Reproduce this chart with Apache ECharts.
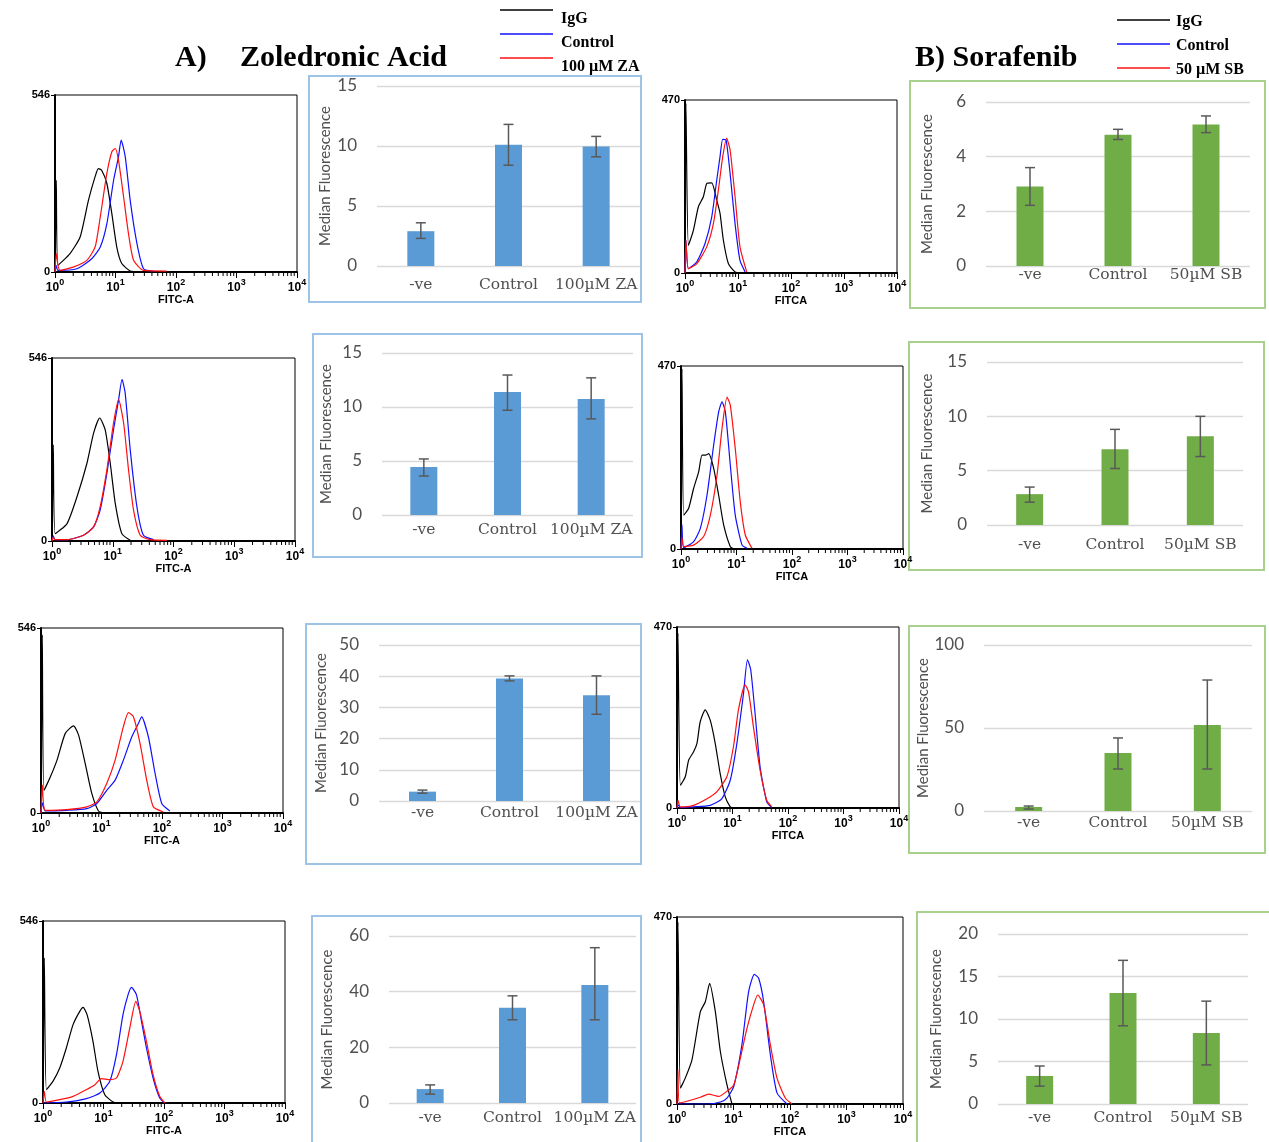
<!DOCTYPE html>
<html><head><meta charset="utf-8">
<script src="https://cdn.jsdelivr.net/npm/echarts@6/dist/echarts.min.js"></script>
<style>html,body{margin:0;padding:0;background:#fff}#c{width:1269px;height:1142px}</style>
</head><body><div id="c"></div>
<script>
// ---------- Bar chart data ----------
const catsZA = ['-ve', 'Control', '100µM ZA'];
const catsSB = ['-ve', 'Control', '50µM SB'];
const za1Mean = [2.9, 10.1, 9.95],  za1Lo = [2.3, 8.4, 9.1],   za1Hi = [3.6, 11.8, 10.8];
const za2Mean = [4.44, 11.4, 10.74], za2Lo = [3.61, 9.7, 8.9], za2Hi = [5.19, 12.96, 12.7];
const za3Mean = [3.0, 39.3, 33.9],  za3Lo = [2.5, 38.5, 27.8], za3Hi = [3.5, 40.1, 40.1];
const za4Mean = [5.0, 34.2, 42.4],  za4Lo = [3.2, 29.9, 29.9], za4Hi = [6.5, 38.5, 55.8];
const sb1Mean = [2.91, 4.8, 5.18],  sb1Lo = [2.22, 4.63, 4.88], sb1Hi = [3.6, 5.0, 5.49];
const sb2Mean = [2.84, 6.97, 8.17], sb2Lo = [2.1, 5.2, 6.3],   sb2Hi = [3.49, 8.8, 10.0];
const sb3Mean = [2.4, 34.9, 51.8],  sb3Lo = [1.2, 25.3, 25.3], sb3Hi = [3.0, 44, 78.9];
const sb4Mean = [3.3, 13.06, 8.35], sb4Lo = [2.1, 9.2, 4.6],   sb4Hi = [4.47, 16.9, 12.1];

// ---------- Histogram data: [FITC-A, count] ----------
const a1IgG  = [[1,0],[1.05,283],[1.12,21],[1.77,57],[2.6,108],[3.57,221],[4.6,294],[5.2,319],[5.9,314],[7.2,273],[8.7,180],[10.5,77],[12.7,26],[17.5,3],[25,0]];
const a1Ctrl = [[1,0],[1.05,20],[1.12,5],[2.3,10],[4.05,41],[5.6,77],[7.2,149],[9.3,283],[11.2,355],[12.4,407],[14.5,355],[17.5,221],[22.6,88],[29,10],[42,3]];
const a1Trt  = [[1,0],[1.05,57],[1.2,5],[2.0,15],[3.35,36],[4.6,77],[5.6,170],[7.2,304],[8.7,371],[9.9,381],[11.2,345],[13.6,232],[16.4,118],[19.9,36],[29,5],[70,3]];

const a2IgG  = [[1,0],[1.05,287],[1.13,22],[1.77,52],[2.58,132],[3.76,232],[4.84,322],[6.1,367],[7.5,332],[9.1,232],[11,112],[14.1,22],[19.4,2]];
const a2Ctrl = [[1,0],[1.05,15],[1.12,4],[1.77,4],[3.3,17],[4.84,42],[6.2,92],[8.0,202],[10.3,332],[12.5,422],[14.2,482],[16,442],[19.4,272],[25,102],[32,17],[47,4]];
const a2Trt  = [[1,0],[1.05,12],[1.12,4],[1.77,4],[3.3,17],[4.84,42],[6.2,102],[8.0,212],[10.3,352],[12.5,422],[15.1,352],[18.2,212],[22,92],[28.3,17],[41,4],[78,2]];

const a3IgG  = [[1,0],[1.05,526],[1.12,67],[1.43,107],[1.84,156],[2.52,235],[3.45,257],[4.18,230],[5.38,146],[6.93,57],[8.9,6],[11,0]];
const a3Ctrl = [[1,0],[1.05,30],[1.18,6],[2.68,8],[5.7,13],[8.4,28],[12.2,67],[16.8,97],[23,156],[31.7,225],[40.9,265],[46,284],[59.5,225],[77,116],[99,28],[135,6]];
const a3Trt  = [[1,0],[1.05,82],[1.18,8],[2.68,10],[5.7,18],[8.4,33],[12.2,87],[16.8,156],[23,255],[27.9,296],[33.7,284],[43.4,205],[55.9,97],[72,18],[105,3]];

const a4IgG  = [[1,0],[1.05,435],[1.14,40],[1.46,65],[1.89,105],[2.43,165],[3.14,235],[4.05,275],[4.6,287],[5.35,265],[6.7,185],[8.1,95],[10.5,25],[14.4,3],[18,0]];
const a4Ctrl = [[1,0],[2.43,3],[5.2,13],[8.7,30],[12.7,65],[16.4,145],[21,265],[25.5,325],[29,347],[35,325],[42.5,245],[51.3,165],[66,75],[85,15],[103,0]];
const a4Trt  = [[1,0],[1.05,35],[1.14,3],[1.89,10],[3.14,20],[5.2,40],[7.2,55],[9.2,73],[12.7,70],[16.4,75],[21,125],[27.2,225],[34.2,305],[39.8,275],[51.3,185],[66,85],[85,20],[103,0]];

const b1IgG  = [[1,0],[1.04,461],[1.16,75],[1.44,116],[1.79,180],[2.22,207],[2.57,243],[3.19,245],[3.97,198],[4.58,162],[5.3,89],[6.6,25],[8.8,3],[11,0]];
const b1Ctrl = [[1,0],[1.04,89],[1.16,12],[1.66,30],[2.39,80],[3.19,152],[3.97,252],[4.58,316],[5.15,363],[5.96,361],[7.1,270],[8.8,134],[10.9,34],[13.6,3]];
const b1Trt  = [[1,0],[1.04,89],[1.16,12],[1.66,25],[2.57,71],[3.43,134],[4.26,225],[5.15,316],[6.1,366],[7.1,334],[8.8,207],[10.9,71],[14.6,3]];

const b2IgG  = [[1,0],[1.04,463],[1.12,87],[1.37,104],[1.69,156],[2.08,198],[2.39,241],[2.75,241],[3.15,245],[3.88,207],[4.77,138],[5.87,62],[7.74,6],[9,0]];
const b2Ctrl = [[1,0],[1.04,62],[1.12,3],[1.69,19],[2.23,53],[2.94,138],[3.88,267],[4.77,352],[5.48,378],[6.3,352],[7.74,215],[9.5,87],[12.6,10],[15.5,2]];
const b2Trt  = [[1,0],[1.04,30],[1.12,6],[1.69,10],[2.56,32],[3.38,87],[4.46,190],[5.48,309],[6.75,390],[7.74,369],[9.5,258],[11.7,121],[14.4,36],[19,2]];

const b3IgG  = [[1,0],[1.04,454],[1.15,59],[1.41,81],[1.62,124],[1.99,146],[2.29,168],[2.62,224],[3.23,255],[3.97,228],[4.88,168],[6.0,89],[7.4,29],[9.1,3],[10,0]];
const b3Ctrl = [[1,0],[1.04,8],[1.15,1],[1.99,3],[3.97,7],[6.4,24],[9.1,72],[12,168],[15.8,298],[18.6,385],[21.3,359],[25.5,246],[31.4,107],[41.4,16],[50.9,1]];
const b3Trt  = [[1,0],[1.04,20],[1.15,3],[1.99,7],[3.46,24],[5.2,42],[7.9,81],[10.4,159],[12.8,255],[16.9,320],[19.4,302],[23.8,211],[31.4,98],[41.4,20],[50.9,3]];

const b4IgG  = [[1,0],[1.04,457],[1.15,40],[1.4,65],[1.84,111],[2.59,232],[3.17,257],[3.78,303],[4.77,232],[5.85,132],[7.67,48],[9.4,0]];
const b4Ctrl = [[1,0],[3.5,0],[5.85,5],[7.67,15],[10.1,44],[14.1,149],[18.5,282],[23.4,326],[27.9,316],[34.2,257],[44.9,124],[58.9,28],[88.5,0]];
const b4Trt  = [[1,0],[1.04,86],[1.1,3],[1.5,7],[2.59,17],[3.63,25],[5.46,19],[7.67,32],[10.1,48],[13.2,115],[17.3,190],[22.7,249],[26.8,274],[34.2,249],[44.9,149],[58.9,65],[82.6,15],[108,0]];

// ---------- Axis tick values ----------
const histYMaxZA = 546, histYMaxSB = 470;
const minorTickVals = [];
[1, 10, 100, 1000].forEach(d => { for (let k = 2; k <= 9; k++) minorTickVals.push(k * d); });

const legendZA = ['IgG', 'Control', '100 µM ZA'];
const legendSB = ['IgG', 'Control', '50 µM SB'];

// ---------- Build ----------
const grids = [], xAxes = [], yAxes = [], series = [], graphics = [];
const SANS = '"Liberation Sans", Arial, sans-serif';
const LATO = 'Lato, "Open Sans", sans-serif';
const SERIF = '"DejaVu Serif", serif';

function addHist(L, T, R, B, ymax, igg, ctrl, trt, xname) {
  const i = grids.length;
  grids.push({left: L, top: T, width: R - L, height: B - T, show: true, borderColor: '#000', borderWidth: 1, backgroundColor: 'transparent'});
  xAxes.push({
    gridIndex: i, type: 'log', logBase: 10, min: 1, max: 10000,
    axisLine: {show: true, onZero: false, lineStyle: {color: '#000', width: 2}},
    axisTick: {show: true, length: 6, lineStyle: {color: '#000', width: 1}},
    splitLine: {show: false},
    axisLabel: {
      margin: 6, showMinLabel: true, showMaxLabel: true,
      formatter: v => '{b|10}{s|' + Math.round(Math.log10(v)) + '}',
      rich: {
        b: {fontFamily: SANS, fontSize: 12, fontWeight: 'bold', color: '#000', verticalAlign: 'bottom'},
        s: {fontFamily: SANS, fontSize: 9, fontWeight: 'bold', color: '#000', verticalAlign: 'top', padding: [0, 0, 7, 0]}
      }
    },
    name: xname, nameLocation: 'middle', nameGap: 18,
    nameTextStyle: {fontFamily: SANS, fontSize: 11, fontWeight: 'bold', color: '#000'}
  });
  yAxes.push({
    gridIndex: i, type: 'value', min: 0, max: ymax, interval: ymax,
    axisLine: {show: true, lineStyle: {color: '#000', width: 2}},
    axisTick: {show: true, length: 4, lineStyle: {color: '#000'}},
    splitLine: {show: false},
    axisLabel: {fontFamily: SANS, fontSize: 11, fontWeight: 'bold', color: '#000', margin: 5}
  });
  [[igg, '#000000'], [ctrl, '#1010ff'], [trt, '#ff1010']].forEach(([d, c]) => {
    series.push({type: 'line', xAxisIndex: i, yAxisIndex: i, data: d, showSymbol: false, smooth: 0.2,
      lineStyle: {color: c, width: 1.2}, silent: true, animation: false});
  });
  series.push({
    type: 'custom', xAxisIndex: i, yAxisIndex: i, silent: true, animation: false, clip: false,
    data: minorTickVals.map(v => [v, 0]),
    renderItem: (params, api) => {
      const p = api.coord([api.value(0), 0]);
      return {type: 'line', shape: {x1: p[0], y1: p[1], x2: p[0], y2: p[1] + 4}, style: {stroke: '#000', lineWidth: 1}};
    }
  });
}

function addBar(box, boxColor, L, R, T, B, cats, mean, lo, hi, ymax, interval, color, nameGap, labMargin) {
  const i = grids.length;
  graphics.push({type: 'rect', silent: true, z: 0, shape: {x: box[0], y: box[1], width: box[2], height: box[3]},
    style: {fill: 'none', stroke: boxColor, lineWidth: 2}});
  grids.push({left: L, top: T, width: R - L, height: B - T});
  xAxes.push({
    gridIndex: i, type: 'category', data: cats,
    axisLine: {show: false}, axisTick: {show: false},
    axisLabel: {interval: 0, fontFamily: SERIF, fontSize: 15.5, color: '#505050', margin: labMargin}
  });
  yAxes.push({
    gridIndex: i, type: 'value', min: 0, max: ymax, interval: interval,
    axisLine: {show: false}, axisTick: {show: false},
    splitLine: {show: true, lineStyle: {color: '#d9d9d9', width: 1.3}},
    axisLabel: {fontFamily: LATO, fontSize: 17, color: '#505050', margin: 20},
    name: 'Median Fluorescence', nameLocation: 'middle', nameRotate: 90, nameGap: nameGap,
    nameTextStyle: {fontFamily: LATO, fontSize: 15, color: '#505050'}
  });
  series.push({type: 'bar', xAxisIndex: i, yAxisIndex: i, data: mean, barWidth: 27,
    itemStyle: {color: color}, silent: true, animation: false});
  series.push({
    type: 'custom', xAxisIndex: i, yAxisIndex: i, silent: true, animation: false, z: 5,
    data: mean.map((m, k) => [k, lo[k], hi[k]]),
    renderItem: (params, api) => {
      const a = api.coord([api.value(0), api.value(1)]);
      const b = api.coord([api.value(0), api.value(2)]);
      const st = {stroke: '#595959', lineWidth: 1.5};
      return {type: 'group', children: [
        {type: 'line', shape: {x1: a[0], y1: a[1], x2: b[0], y2: b[1]}, style: st},
        {type: 'line', shape: {x1: a[0] - 5, y1: a[1], x2: a[0] + 5, y2: a[1]}, style: st},
        {type: 'line', shape: {x1: b[0] - 5, y1: b[1], x2: b[0] + 5, y2: b[1]}, style: st}
      ]};
    }
  });
}

// Histograms (A: zoledronic acid, B: sorafenib)
addHist(55, 95, 297, 272, histYMaxZA, a1IgG, a1Ctrl, a1Trt, 'FITC-A');
addHist(52, 358, 295, 541, histYMaxZA, a2IgG, a2Ctrl, a2Trt, 'FITC-A');
addHist(41, 628, 283, 813, histYMaxZA, a3IgG, a3Ctrl, a3Trt, 'FITC-A');
addHist(43, 921, 285, 1103, histYMaxZA, a4IgG, a4Ctrl, a4Trt, 'FITC-A');
addHist(685, 100, 897, 273, histYMaxSB, b1IgG, b1Ctrl, b1Trt, 'FITCA');
addHist(681, 366, 903, 549, histYMaxSB, b2IgG, b2Ctrl, b2Trt, 'FITCA');
addHist(677, 627, 899, 808, histYMaxSB, b3IgG, b3Ctrl, b3Trt, 'FITCA');
addHist(677, 917, 903, 1104, histYMaxSB, b4IgG, b4Ctrl, b4Trt, 'FITCA');

// Bar charts
const BLUE = '#5b9bd5', GREEN = '#70ad47', BOXB = '#9dc3e6', BOXG = '#a9d18e';
addBar([309, 76, 332, 226], BOXB, 377, 640, 86, 266, catsZA, za1Mean, za1Lo, za1Hi, 15, 5, BLUE, 44, 11);
addBar([313, 334, 329, 223], BOXB, 382, 633, 353, 515, catsZA, za2Mean, za2Lo, za2Hi, 15, 5, BLUE, 48, 7);
addBar([306, 624, 335, 240], BOXB, 379, 640, 645, 801, catsZA, za3Mean, za3Lo, za3Hi, 50, 10, BLUE, 50, 4);
addBar([312, 916, 329, 232], BOXB, 389, 636, 936, 1103, catsZA, za4Mean, za4Lo, za4Hi, 60, 20, BLUE, 54, 7);
addBar([910, 81, 355, 227], BOXG, 986, 1250, 102, 266, catsSB, sb1Mean, sb1Lo, sb1Hi, 6, 2, GREEN, 51, 1);
addBar([909, 342, 355, 228], BOXG, 987, 1243, 362, 525, catsSB, sb2Mean, sb2Lo, sb2Hi, 15, 5, GREEN, 52, 12);
addBar([909, 626, 356, 227], BOXG, 984, 1252, 645, 811, catsSB, sb3Mean, sb3Lo, sb3Hi, 100, 50, GREEN, 48, 4);
addBar([917, 912, 355, 232], BOXG, 998, 1248, 934, 1104, catsSB, sb4Mean, sb4Lo, sb4Hi, 20, 5, GREEN, 54, 6);

// Titles
const TFONT = 'bold 30px "Liberation Serif", serif';
graphics.push({type: 'text', x: 175, y: 58, silent: true, style: {text: 'A)', font: TFONT, fill: '#000', align: 'left', verticalAlign: 'middle'}});
graphics.push({type: 'text', x: 240, y: 58, silent: true, style: {text: 'Zoledronic Acid', font: TFONT, fill: '#000', align: 'left', verticalAlign: 'middle'}});
graphics.push({type: 'text', x: 915, y: 58, silent: true, style: {text: 'B) Sorafenib', font: TFONT, fill: '#000', align: 'left', verticalAlign: 'middle'}});

// Legends
const LFONT = 'bold 16px "Liberation Serif", serif';
const legColors = ['#000000', '#1010ff', '#ff1010'];
function addLegend(x1, x2, tx, ys, dy, labels) {
  labels.forEach((lab, k) => {
    graphics.push({type: 'line', silent: true, shape: {x1: x1, y1: ys[k], x2: x2, y2: ys[k]}, style: {stroke: legColors[k], lineWidth: 1.5}});
    graphics.push({type: 'text', x: tx, y: ys[k] + dy, silent: true, style: {text: lab, font: LFONT, fill: '#000', align: 'left', verticalAlign: 'middle'}});
  });
}
addLegend(500, 553, 561, [10, 34, 58], 9, legendZA);
addLegend(1117, 1170, 1176, [20, 44, 68], 2, legendSB);

const chart = echarts.init(document.getElementById('c'));
chart.setOption({
  animation: false,
  backgroundColor: '#fff',
  grid: grids, xAxis: xAxes, yAxis: yAxes, series: series,
  graphic: {elements: graphics}
});
</script>
</body></html>
